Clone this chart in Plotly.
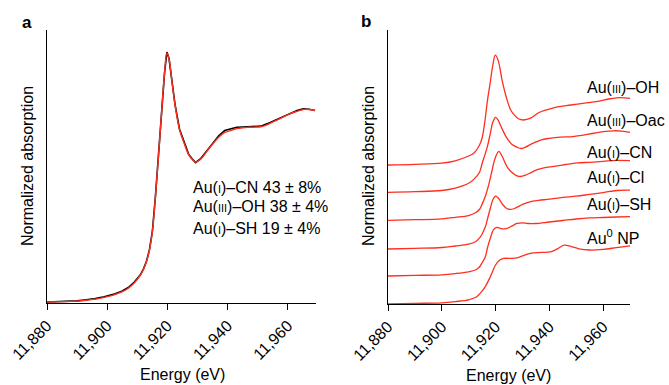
import plotly.graph_objects as go

# ---------------- Panel a data ----------------
energy_a = [11880, 11885, 11890, 11893, 11896, 11899, 11902, 11905, 11907, 11909, 11911, 11912,
            11913, 11914, 11915, 11916, 11917, 11918, 11919, 11919.8, 11920.5, 11921.5, 11922.5,
            11924, 11925.5, 11927, 11928.5, 11929.3, 11931, 11933, 11935, 11937, 11939, 11941,
            11943, 11945, 11947, 11949, 11951, 11953, 11955, 11957, 11959, 11961, 11963, 11965,
            11967, 11969]
measured_a = [0.0, 0.003, 0.006, 0.012, 0.018, 0.028, 0.04, 0.058, 0.076, 0.104, 0.142, 0.172,
              0.212, 0.272, 0.372, 0.552, 0.762, 0.982, 1.192, 1.305, 1.272, 1.152, 1.032,
              0.902, 0.832, 0.772, 0.742, 0.728, 0.748, 0.79, 0.832, 0.868, 0.895, 0.905,
              0.912, 0.914, 0.915, 0.914, 0.918, 0.93, 0.944, 0.96, 0.975, 0.99, 1.0, 1.008,
              1.006, 1.0]
fit_a = [0.0, 0.002, 0.005, 0.009, 0.015, 0.024, 0.036, 0.054, 0.072, 0.10, 0.14, 0.17,
         0.21, 0.27, 0.37, 0.55, 0.76, 0.98, 1.19, 1.30, 1.27, 1.15, 1.03,
         0.90, 0.83, 0.77, 0.74, 0.73, 0.745, 0.785, 0.825, 0.86, 0.885, 0.895,
         0.905, 0.91, 0.912, 0.913, 0.915, 0.925, 0.94, 0.955, 0.97, 0.985, 0.995, 1.005,
         1.005, 1.0]
fit_labels = ["Au(<span style='font-size:11px'>I</span>)–CN 43 ± 8%",
              "Au(<span style='font-size:11px'>III</span>)–OH 38 ± 4%",
              "Au(<span style='font-size:11px'>I</span>)–SH 19 ± 4%"]

# ---------------- Panel b data (normalized, stacked) ----------------
energy_oh = [11880, 11890, 11900, 11905, 11910, 11912, 11914, 11915, 11916, 11917, 11918, 11919,
             11919.9, 11921, 11922.4, 11924, 11925.5, 11927, 11928.5, 11930.5, 11933, 11936,
             11939, 11943, 11948, 11953, 11958, 11962, 11965, 11968, 11970]
abs_oh = [0, 0.01, 0.03, 0.07, 0.15, 0.20, 0.33, 0.45, 0.72, 1.08, 1.37, 1.67,
          1.83, 1.74, 1.42, 1.13, 0.93, 0.83, 0.77, 0.75, 0.78, 0.87,
          0.92, 0.97, 1.0, 1.03, 1.06, 1.10, 1.12, 1.12, 1.11]

energy_oac = [11880, 11890, 11900, 11905, 11910, 11912, 11914, 11915, 11916, 11917, 11918, 11919,
              11920, 11921, 11922, 11924, 11926, 11928, 11929.5, 11931, 11934, 11937, 11940,
              11944, 11948, 11952, 11956, 11960, 11964, 11967, 11970]
abs_oac = [0, 0.01, 0.03, 0.07, 0.15, 0.22, 0.33, 0.48, 0.62, 0.77, 0.97, 1.17,
           1.25, 1.20, 1.10, 0.92, 0.80, 0.75, 0.73, 0.75, 0.82, 0.875, 0.90,
           0.92, 0.925, 0.95, 0.98, 1.01, 1.025, 1.02, 1.0]

energy_cn = [11880, 11890, 11900, 11905, 11910, 11912.5, 11914, 11915, 11916.2, 11917.5, 11918.7,
             11919.8, 11921.2, 11922.3, 11924.2, 11926, 11928, 11929.3, 11931, 11933, 11935.5,
             11938, 11941.7, 11946, 11950.4, 11955, 11960, 11965, 11970]
abs_cn = [0, 0.01, 0.025, 0.05, 0.08, 0.125, 0.18, 0.27, 0.40, 0.60, 0.83,
          1.03, 1.15, 1.08, 0.90, 0.80, 0.74, 0.73, 0.75, 0.79, 0.845,
          0.875, 0.90, 0.93, 0.957, 0.967, 0.983, 1.0, 0.995]

energy_cl = [11880, 11890, 11900, 11905, 11910, 11912.5, 11914, 11915, 11916.2, 11917, 11918,
             11919, 11920, 11921, 11922.5, 11924, 11925.5, 11927, 11929, 11931, 11933, 11936,
             11940, 11945, 11950, 11955, 11960, 11965, 11970]
abs_cl = [0, 0.01, 0.025, 0.05, 0.08, 0.12, 0.18, 0.25, 0.37, 0.50, 0.67,
          0.82, 0.88, 0.85, 0.75, 0.68, 0.66, 0.675, 0.72, 0.76, 0.79, 0.81,
          0.83, 0.86, 0.88, 0.91, 0.94, 0.975, 0.98]

energy_sh = [11880, 11890, 11900, 11905, 11910, 11912.5, 11914, 11915, 11916.2, 11917, 11918,
             11919.2, 11920.5, 11922, 11924, 11926, 11928, 11930, 11932, 11935, 11940, 11945,
             11950, 11955, 11960, 11965, 11970]
abs_sh = [0, 0.01, 0.02, 0.04, 0.07, 0.10, 0.15, 0.22, 0.32, 0.47, 0.62,
          0.77, 0.81, 0.79, 0.79, 0.83, 0.875, 0.885, 0.875, 0.875, 0.90, 0.925,
          0.95, 0.967, 0.975, 0.983, 0.99]

energy_np = [11880, 11890, 11900, 11905, 11910, 11913, 11914.5, 11916.2, 11918, 11920, 11921.5,
             11923, 11926, 11928, 11930.5, 11933, 11937, 11940.4, 11943, 11945.5, 11948, 11951,
             11955, 11960, 11965, 11970]
abs_np = [0, 0.01, 0.02, 0.04, 0.07, 0.12, 0.19, 0.29, 0.45, 0.65, 0.73,
          0.76, 0.76, 0.77, 0.81, 0.845, 0.86, 0.87, 0.92, 0.98, 0.96, 0.92,
          0.90, 0.91, 0.94, 0.97]

labels_b = ["Au(<span style='font-size:11px'>III</span>)–OH",
            "Au(<span style='font-size:11px'>III</span>)–Oac",
            "Au(<span style='font-size:11px'>I</span>)–CN",
            "Au(<span style='font-size:11px'>I</span>)–Cl",
            "Au(<span style='font-size:11px'>I</span>)–SH",
            "Au<sup>0</sup> NP"]
offsets_b = [2.317, 1.862, 1.395, 0.917, 0.467, 0.0]
label_y_b = [0.774, 0.688, 0.605, 0.538, 0.468, 0.384]  # paper coords of labels

tick_vals = [11880, 11900, 11920, 11940, 11960]
tick_text = ["11,880", "11,900", "11,920", "11,940", "11,960"]

RED = "#ff2e1f"
FONT = "Liberation Sans, Arial, sans-serif"

fig = go.Figure()

fig.add_trace(go.Scatter(x=energy_a, y=measured_a, mode="lines", line=dict(color="black", width=1.6),
                         xaxis="x", yaxis="y", showlegend=False))
fig.add_trace(go.Scatter(x=energy_a, y=fit_a, mode="lines", line=dict(color=RED, width=1.4, shape="spline"),
                         xaxis="x", yaxis="y", showlegend=False))

spectra = [(energy_oh, abs_oh), (energy_oac, abs_oac), (energy_cn, abs_cn),
           (energy_cl, abs_cl), (energy_sh, abs_sh), (energy_np, abs_np)]
for (e, a), off in zip(spectra, offsets_b):
    fig.add_trace(go.Scatter(x=e, y=[v + off for v in a], mode="lines",
                             line=dict(color=RED, width=1.3, shape="spline"),
                             xaxis="x2", yaxis="y2", showlegend=False))

xa_common = dict(tickvals=tick_vals, ticktext=tick_text, tickangle=-45, ticks="outside",
                 ticklen=6, tickwidth=1, tickcolor="black", showline=True, linecolor="black",
                 linewidth=1.2, showgrid=False, zeroline=False, automargin=False,
                 tickfont=dict(family=FONT, size=16, color="black"))
ya_common = dict(showline=True, linecolor="black", linewidth=1.2, showticklabels=False,
                 ticks="", showgrid=False, zeroline=False, automargin=False)

W, H = 669, 385
fig.update_layout(
    template="none",
    width=W, height=H, margin=dict(l=0, r=0, t=0, b=0, pad=0), autosize=False,
    paper_bgcolor="white", plot_bgcolor="white",
    font=dict(family=FONT, size=16, color="black"),
    xaxis=dict(domain=[47 / W, 316 / W], range=[11880, 11969.3], anchor="y", **xa_common),
    yaxis=dict(domain=[1 - 303 / H, 1 - 30 / H], range=[-0.005, 1.42], anchor="x", **ya_common),
    xaxis2=dict(domain=[388 / W, 630 / W], range=[11880, 11970], anchor="y2", **xa_common),
    yaxis2=dict(domain=[1 - 304 / H, 1 - 30 / H], range=[0, 4.567], anchor="x2", **ya_common),
)

ann = []
# panel letters
ann.append(dict(text="<b>a</b>", x=27 / W, y=1 - 22 / H, xref="paper", yref="paper",
                showarrow=False, font=dict(size=17), xanchor="center", yanchor="middle"))
ann.append(dict(text="<b>b</b>", x=366 / W, y=1 - 21 / H, xref="paper", yref="paper",
                showarrow=False, font=dict(size=17), xanchor="center", yanchor="middle"))
# axis titles
for cx in [28, 369]:
    ann.append(dict(text="Normalized absorption", x=cx / W, y=1 - 166 / H, xref="paper", yref="paper",
                    showarrow=False, textangle=-90, font=dict(size=16),
                    xanchor="center", yanchor="middle"))
for cx, cy in [(182, 374), (508, 375)]:
    ann.append(dict(text="Energy (eV)", x=cx / W, y=1 - cy / H, xref="paper", yref="paper",
                    showarrow=False, font=dict(size=16), xanchor="center", yanchor="middle"))
# panel a fit results
for txt, cy in zip(fit_labels, [187, 207, 228]):
    ann.append(dict(text=txt, x=191 / W, y=1 - cy / H, xref="paper", yref="paper",
                    showarrow=False, font=dict(size=16), xanchor="left", yanchor="middle"))
# panel b labels
for txt, py in zip(labels_b, label_y_b):
    ann.append(dict(text=txt, x=585 / W, y=py, xref="paper", yref="paper",
                    showarrow=False, font=dict(size=16), xanchor="left", yanchor="middle"))
fig.update_layout(annotations=ann)

fig.write_html("out.html",
               config={"displayModeBar": False, "staticPlot": True},
               post_script="document.body.style.margin='0px';document.body.style.padding='0px';")
